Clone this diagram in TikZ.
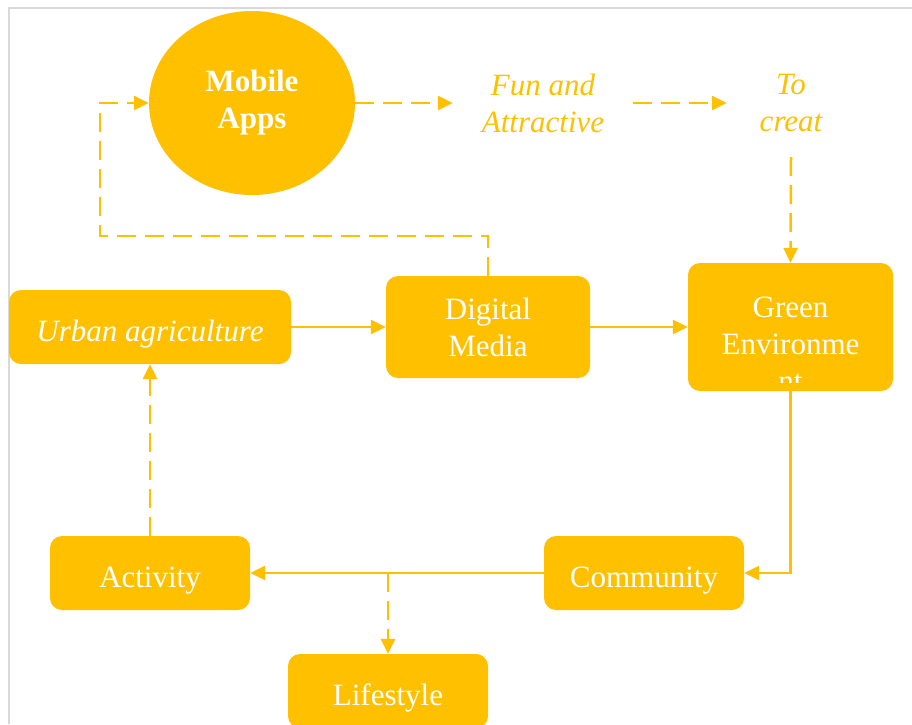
\documentclass[tikz,border=0pt]{standalone}
\usepackage{fontspec}
\setmainfont{Liberation Serif}
\usetikzlibrary{arrows.meta,shapes.geometric}
\definecolor{gold}{HTML}{FFC000}
\definecolor{framegray}{HTML}{D9D9D9}
\tikzset{
  box/.style={fill=gold, rounded corners=12pt, text=white, font=\fontsize{31}{37}\selectfont, align=center, inner sep=0pt},
  oneline/.style={text height=28pt, text depth=0pt},
  conn/.style={draw=gold, line width=2.5pt, -{Triangle[length=15pt,width=14pt]}},
  dashedline/.style={dash pattern=on 19pt off 9pt},
  goldtext/.style={text=gold, font=\fontsize{31}{37}\selectfont\itshape, align=center, inner sep=0pt}
}
\begin{document}
\begin{tikzpicture}[x=1pt,y=-1pt]
\clip (0,0) rectangle (912,724);
\fill[white] (0,0) rectangle (912,724);
\draw[framegray, line width=2pt] (9,724) -- (9,8) -- (912,8);

\node[ellipse, fill=gold, text=white, minimum width=206pt, minimum height=184pt, inner sep=0pt, align=center, font=\fontsize{31}{37}\selectfont\bfseries] (mobile) at (252,103) {Mobile\\Apps};
\node[goldtext, minimum width=180pt] (fun) at (543,103) {Fun and\\Attractive};
\node[goldtext, minimum width=128pt, minimum height=108pt] (tocreat) at (791,103) {To\\creat};

\node[box, oneline, minimum width=282pt, minimum height=74pt, font=\fontsize{31}{37}\selectfont\itshape] (urban) at (150,327) {Urban agriculture};
\node[box, minimum width=204pt, minimum height=102pt] (digital) at (488,327) {Digital\\Media};
\node[box, minimum width=205pt, minimum height=128pt] (green) at (790.5,327) {};
\begin{scope}
  \clip (688,263) rectangle (893,382);
  \node[text=white, font=\fontsize{31}{37}\selectfont, align=center, inner sep=0pt] (greentext) at (790.5,344) {Green\\Environme\\nt};
\end{scope}
\node[box, oneline, minimum width=200pt, minimum height=74pt] (activity) at (150,573) {Activity};
\node[box, oneline, minimum width=200pt, minimum height=74pt] (community) at (644,573) {Community};
\node[box, oneline, minimum width=200pt, minimum height=74pt] (lifestyle) at (388,691) {Lifestyle};

\draw[conn, dashedline] (mobile.east) -- (fun.west);
\draw[conn, dashedline] (fun.east) -- (tocreat.west);
\draw[conn, dashedline] (tocreat.south) -- (green.north);
\draw[conn, dashedline] (digital.north) -- ++(0,-40) -| ([xshift=-49pt]mobile.west) -- (mobile.west);
\draw[conn] (urban.east) -- (digital.west);
\draw[conn] (digital.east) -- (green.west);
\draw[conn] (green.south) |- (community.east);
\draw[conn] (community.west) -- (activity.east);
\draw[conn, dashedline] (lifestyle.north |- community.west) -- (lifestyle.north);
\draw[conn, dashedline] (activity.north) -- (urban.south);
\end{tikzpicture}
\end{document}
